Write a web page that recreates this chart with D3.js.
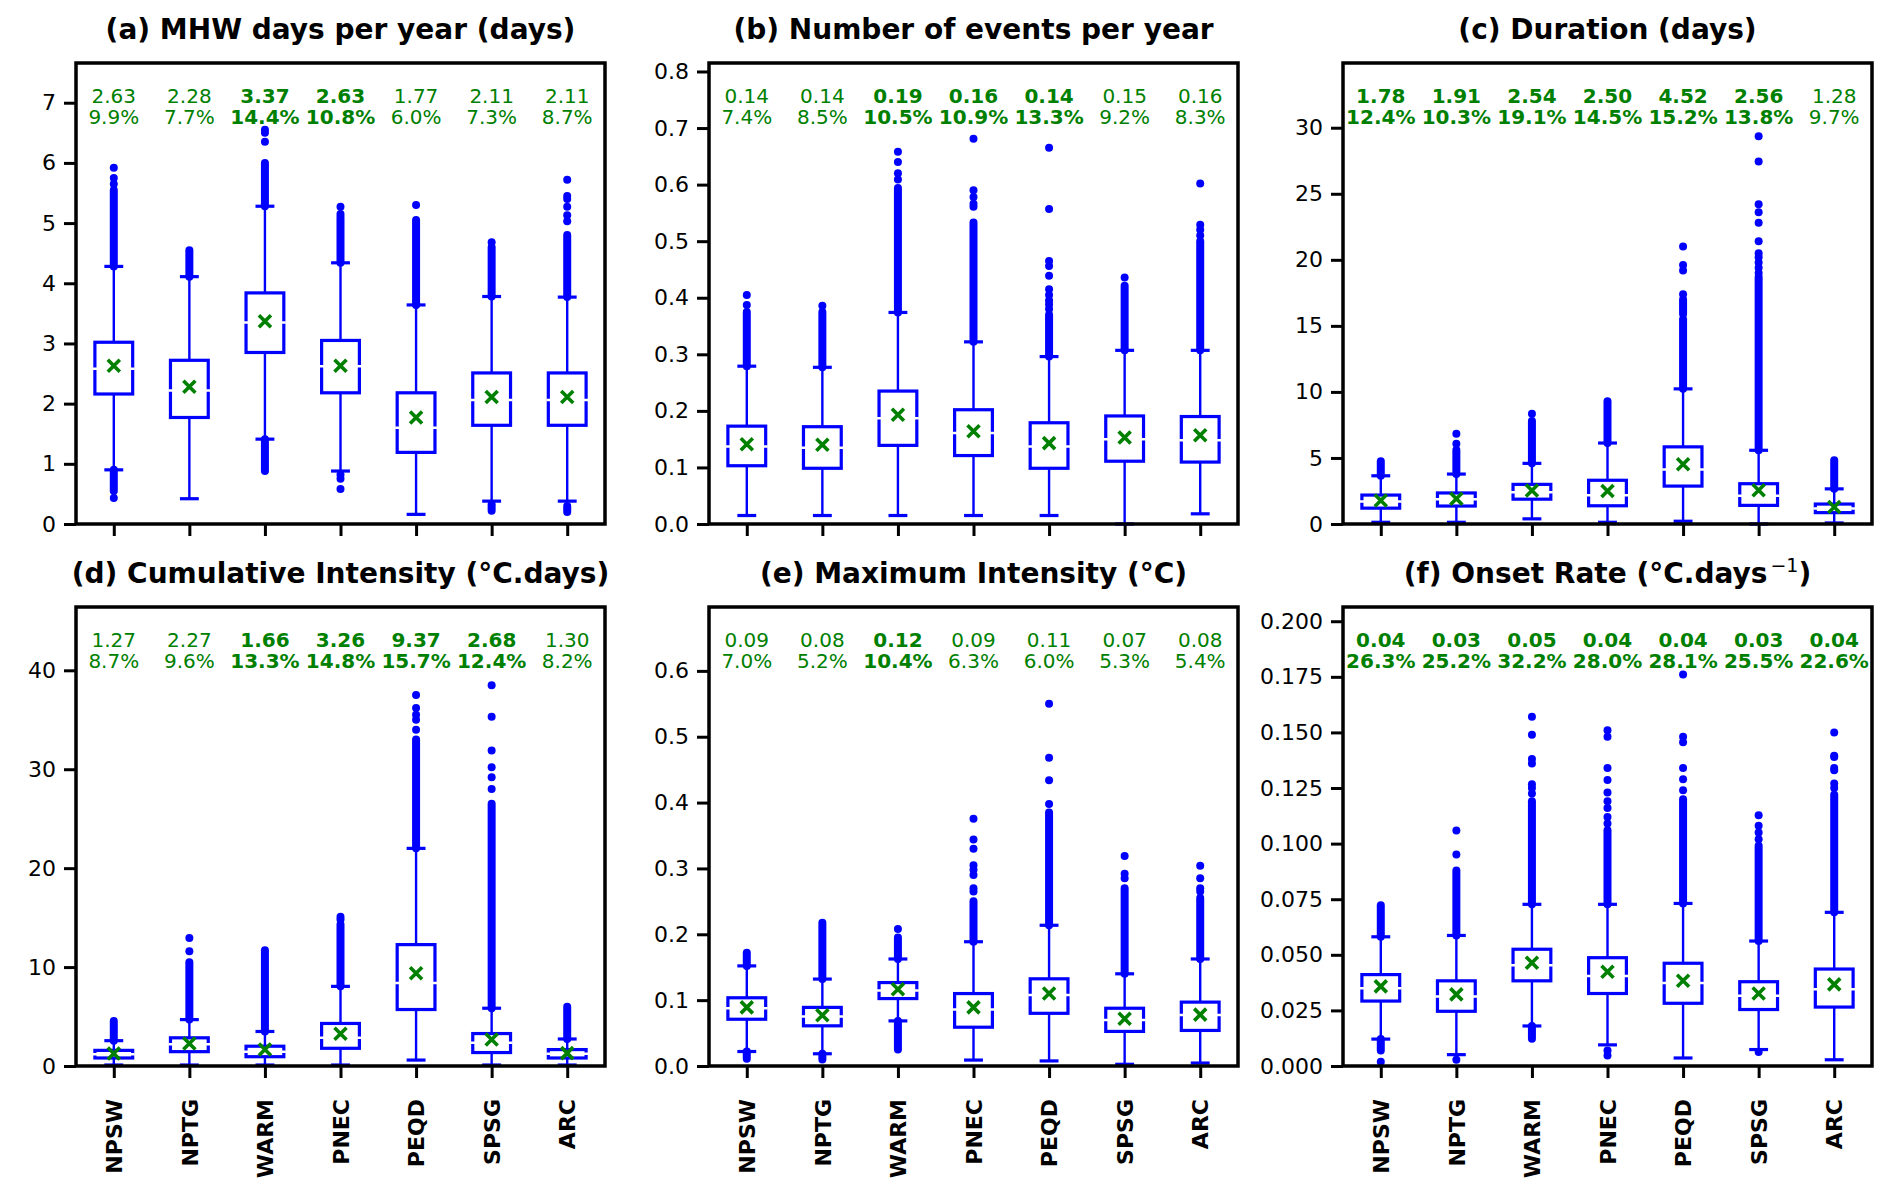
<!DOCTYPE html>
<html lang="en">
<head>
<meta charset="UTF-8">
<title>MHW metrics by region</title>
<script src="https://d3js.org/d3.v7.min.js"></script>
<style>
  body { margin: 0; background: #fff; }
  svg { display: block; font-family: "DejaVu Sans", sans-serif; }
</style>
</head>
<body>
<svg></svg>
<script>
// regions on the x axis
const regions = ["NPSW", "NPTG", "WARM", "PNEC", "PEQD", "SPSG", "ARC"];

// (a) MHW days per year
const aQ1 = [2.16, 1.77, 2.85, 2.18, 1.19, 1.64, 1.64];
const aMed = [2.58, 2.22, 3.35, 2.62, 1.60, 2.06, 2.06];
const aQ3 = [3.02, 2.72, 3.84, 3.05, 2.18, 2.51, 2.51];
const aLo = [0.90, 0.42, 1.41, 0.88, 0.16, 0.38, 0.38];
const aHi = [4.28, 4.11, 5.28, 4.34, 3.64, 3.78, 3.77];
const aMean = [2.63, 2.28, 3.37, 2.63, 1.77, 2.11, 2.11];
const aPct = [9.9, 7.7, 14.4, 10.8, 6.0, 7.3, 8.7];
const aBold = [0, 0, 1, 1, 0, 0, 0];
const aFliers = [
  { runs: [[4.28, 5.55], [0.55, 0.90]], dots: [5.65, 5.75, 5.92, 0.43] },
  { runs: [[4.11, 4.55]], dots: [] },
  { runs: [[5.28, 6.0], [0.88, 1.41]], dots: [6.35, 6.5, 6.55] },
  { runs: [[4.34, 5.1]], dots: [5.15, 5.27, 0.82, 0.75, 0.58] },
  { runs: [[3.64, 5.05]], dots: [5.3] },
  { runs: [[3.78, 4.6], [0.22, 0.33]], dots: [4.68] },
  { runs: [[3.77, 4.8], [0.2, 0.3]], dots: [5.03, 5.13, 5.27, 5.4, 5.45, 5.72] }
];
const aTicks = [0, 1, 2, 3, 4, 5, 6, 7];

// (b) number of events per year
const bQ1 = [0.103, 0.0985, 0.139, 0.121, 0.0985, 0.111, 0.1095];
const bMed = [0.137, 0.135, 0.187, 0.161, 0.137, 0.150, 0.148];
const bQ3 = [0.173, 0.172, 0.235, 0.202, 0.179, 0.191, 0.190];
const bLo = [0.015, 0.015, 0.015, 0.015, 0.015, 0.0, 0.018];
const bHi = [0.279, 0.277, 0.374, 0.322, 0.296, 0.307, 0.307];
const bMean = [0.141, 0.14, 0.193, 0.164, 0.143, 0.153, 0.157];
const bPct = [7.4, 8.5, 10.5, 10.9, 13.3, 9.2, 8.3];
const bBold = [0, 0, 1, 1, 1, 0, 0];
const bFliers = [
  { runs: [[0.279, 0.375]], dots: [0.387, 0.405] },
  { runs: [[0.277, 0.375]], dots: [0.386] },
  { runs: [[0.374, 0.594]], dots: [0.609, 0.62, 0.64, 0.658] },
  { runs: [[0.322, 0.533]], dots: [0.561, 0.566, 0.578, 0.59, 0.681] },
  { runs: [[0.296, 0.37]], dots: [0.38, 0.388, 0.395, 0.405, 0.415, 0.439, 0.456, 0.465, 0.557, 0.665] },
  { runs: [[0.307, 0.421]], dots: [0.436] },
  { runs: [[0.307, 0.50]], dots: [0.51, 0.52, 0.529, 0.602] }
];
const bTicks = [0, 0.1, 0.2, 0.3, 0.4, 0.5, 0.6, 0.7, 0.8];

// (c) duration
const cQ1 = [1.20, 1.36, 1.88, 1.38, 2.87, 1.41, 0.86];
const cMed = [1.70, 1.88, 2.40, 2.17, 4.12, 2.14, 1.17];
const cQ3 = [2.19, 2.35, 3.0, 3.31, 5.84, 3.05, 1.51];
const cLo = [0.13, 0.13, 0.39, 0.13, 0.21, 0.0, 0.08];
const cHi = [3.65, 3.78, 4.59, 6.13, 10.23, 5.58, 2.66];
const cMean = [1.78, 1.91, 2.54, 2.50, 4.52, 2.56, 1.28];
const cPct = [12.4, 10.3, 19.1, 14.5, 15.2, 13.8, 9.7];
const cBold = [1, 1, 1, 1, 1, 1, 0];
const cFliers = [
  { runs: [[3.65, 4.75]], dots: [] },
  { runs: [[3.78, 5.6]], dots: [6.08, 6.84] },
  { runs: [[4.59, 7.8]], dots: [8.35] },
  { runs: [[6.13, 9.3]], dots: [] },
  { runs: [[10.23, 15.5], [15.9, 17.0]], dots: [17.4, 19.2, 19.6, 21.0] },
  { runs: [[5.58, 18.7]], dots: [19.0, 19.4, 19.8, 20.2, 20.5, 21.4, 22.8, 23.6, 24.2, 27.45, 29.35] },
  { runs: [[2.66, 4.83]], dots: [] }
];
const cTicks = [0, 5, 10, 15, 20, 25, 30];

// (d) cumulative intensity
const dQ1 = [0.81, 1.45, 0.94, 1.79, 5.71, 1.36, 0.81];
const dMed = [1.19, 2.2, 1.45, 2.85, 8.39, 2.34, 1.24];
const dQ3 = [1.58, 2.85, 2.0, 4.3, 12.27, 3.28, 1.66];
const dLo = [0.1, 0.1, 0.1, 0.1, 0.6, 0.1, 0.1];
const dHi = [2.56, 4.69, 3.49, 8.05, 22.0, 5.84, 2.73];
const dMean = [1.27, 2.27, 1.66, 3.26, 9.37, 2.68, 1.30];
const dPct = [8.7, 9.6, 13.3, 14.8, 15.7, 12.4, 8.2];
const dBold = [0, 0, 1, 1, 1, 1, 0];
const dFliers = [
  { runs: [[2.56, 4.56]], dots: [] },
  { runs: [[4.69, 10.5]], dots: [11.6, 12.95] },
  { runs: [[3.49, 11.7]], dots: [] },
  { runs: [[8.05, 14.3]], dots: [14.8, 15.1] },
  { runs: [[22.0, 33.0]], dots: [34.0, 35.0, 35.5, 36.2, 37.5] },
  { runs: [[5.84, 26.5]], dots: [28.0, 29.2, 30.2, 31.9, 35.3, 38.5] },
  { runs: [[2.73, 6.0]], dots: [] }
];
const dTicks = [0, 10, 20, 30, 40];

// (e) maximum intensity
const eQ1 = [0.071, 0.061, 0.1024, 0.0589, 0.080, 0.0525, 0.054];
const eMed = [0.0877, 0.075, 0.1145, 0.0857, 0.108, 0.0697, 0.0774];
const eQ3 = [0.1036, 0.089, 0.1267, 0.110, 0.1324, 0.0877, 0.097];
const eLo = [0.022, 0.0186, 0.0685, 0.009, 0.0077, 0.0026, 0.0045];
const eHi = [0.152, 0.132, 0.1625, 0.1887, 0.2137, 0.14, 0.1625];
const eMean = [0.089, 0.077, 0.1164, 0.089, 0.11, 0.0717, 0.078];
const ePct = [7.0, 5.2, 10.4, 6.3, 6.0, 5.3, 5.4];
const eBold = [0, 0, 1, 0, 0, 0, 0];
const eFliers = [
  { runs: [[0.152, 0.172], [0.011, 0.022]], dots: [] },
  { runs: [[0.132, 0.2175], [0.01, 0.0186]], dots: [] },
  { runs: [[0.1625, 0.195], [0.025, 0.0685]], dots: [0.208] },
  { runs: [[0.1887, 0.25]], dots: [0.265, 0.27, 0.29, 0.298, 0.305, 0.33, 0.344, 0.3755] },
  { runs: [[0.2137, 0.385]], dots: [0.398, 0.434, 0.468, 0.55] },
  { runs: [[0.14, 0.27]], dots: [0.285, 0.292, 0.319] },
  { runs: [[0.1625, 0.255]], dots: [0.265, 0.27, 0.285, 0.304] }
];
const eTicks = [0, 0.1, 0.2, 0.3, 0.4, 0.5, 0.6];

// (f) onset rate
const fQ1 = [0.0292, 0.0246, 0.0383, 0.0326, 0.0282, 0.0254, 0.0265];
const fMed = [0.035, 0.0313, 0.0453, 0.0405, 0.0373, 0.0316, 0.0345];
const fQ3 = [0.0411, 0.0383, 0.0525, 0.0487, 0.0462, 0.0379, 0.0436];
const fLo = [0.0121, 0.0051, 0.018, 0.0095, 0.0036, 0.0074, 0.0028];
const fHi = [0.0581, 0.0587, 0.0727, 0.0727, 0.0731, 0.0562, 0.0691];
const fMean = [0.0358, 0.0322, 0.0464, 0.0424, 0.0383, 0.0326, 0.0367];
const fPct = [26.3, 25.2, 32.2, 28.0, 28.1, 25.5, 22.6];
const fBold = [1, 1, 1, 1, 1, 1, 1];
const fFliers = [
  { runs: [[0.0581, 0.0723], [0.007, 0.0121]], dots: [0.0019] },
  { runs: [[0.0587, 0.0879]], dots: [0.0951, 0.1059, 0.0028] },
  { runs: [[0.0727, 0.119], [0.0123, 0.018]], dots: [0.1225, 0.125, 0.1267, 0.136, 0.138, 0.149, 0.157] },
  { runs: [[0.0727, 0.106]], dots: [0.109, 0.112, 0.116, 0.119, 0.123, 0.1286, 0.134, 0.148, 0.151, 0.007, 0.0047] },
  { runs: [[0.0731, 0.12]], dots: [0.124, 0.129, 0.134, 0.1456, 0.148, 0.176] },
  { runs: [[0.0562, 0.099]], dots: [0.102, 0.105, 0.108, 0.1127, 0.0063] },
  { runs: [[0.0691, 0.122]], dots: [0.125, 0.127, 0.133, 0.134, 0.139, 0.1395, 0.15] }
];
const fTicks = [0, 0.025, 0.05, 0.075, 0.1, 0.125, 0.15, 0.175, 0.2];

const panels = [
  { title: "(a) MHW days per year (days)", yMax: 7.66, ticks: aTicks, fmt: d3.format("d"),
    q1: aQ1, med: aMed, q3: aQ3, lo: aLo, hi: aHi, mean: aMean, pct: aPct, bold: aBold, fliers: aFliers },
  { title: "(b) Number of events per year", yMax: 0.815, ticks: bTicks, fmt: d3.format(".1f"),
    q1: bQ1, med: bMed, q3: bQ3, lo: bLo, hi: bHi, mean: bMean, pct: bPct, bold: bBold, fliers: bFliers },
  { title: "(c) Duration (days)", yMax: 34.9, ticks: cTicks, fmt: d3.format("d"),
    q1: cQ1, med: cMed, q3: cQ3, lo: cLo, hi: cHi, mean: cMean, pct: cPct, bold: cBold, fliers: cFliers },
  { title: "(d) Cumulative Intensity (°C.days)", yMax: 46.4, ticks: dTicks, fmt: d3.format("d"),
    q1: dQ1, med: dMed, q3: dQ3, lo: dLo, hi: dHi, mean: dMean, pct: dPct, bold: dBold, fliers: dFliers },
  { title: "(e) Maximum Intensity (°C)", yMax: 0.697, ticks: eTicks, fmt: d3.format(".1f"),
    q1: eQ1, med: eMed, q3: eQ3, lo: eLo, hi: eHi, mean: eMean, pct: ePct, bold: eBold, fliers: eFliers },
  { title: "(f) Onset Rate (°C.days", sup: "\u22121", yMax: 0.2064, ticks: fTicks, fmt: d3.format(".3f"),
    q1: fQ1, med: fMed, q3: fQ3, lo: fLo, hi: fHi, mean: fMean, pct: fPct, bold: fBold, fliers: fFliers }
];

const width = 1892, height = 1202;
const blue = "#0000ff", green = "#008000";
const colLeft = [76, 709, 1343], colW = 529;
const rowTop = [63, 607], rowH = [461, 459];
const dotR = 4;

const svg = d3.select("svg").attr("width", width).attr("height", height);
svg.append("rect").attr("width", width).attr("height", height).attr("fill", "#fff");

panels.forEach((p, i) => {
  const col = i % 3, row = Math.floor(i / 3);
  const w = colW, h = rowH[row];
  const g = svg.append("g").attr("transform", `translate(${colLeft[col]},${rowTop[row]})`);

  const x = d3.scaleLinear().domain([0.5, 7.5]).range([0, w]);
  const y = d3.scaleLinear().domain([0, p.yMax]).range([h, 0]);
  const pos = regions.map((_, k) => k + 1);
  const bw = x(1.25) - x(1);   // half box width
  const cw = x(1.125) - x(1);  // half cap width

  // y axis
  const ya = g.append("g").call(d3.axisLeft(y).tickValues(p.ticks).tickFormat(p.fmt).tickSize(12).tickPadding(8));
  ya.select(".domain").remove();
  ya.selectAll(".tick line").attr("stroke", "#000").attr("stroke-width", 3);
  ya.selectAll(".tick text").attr("font-size", 22).attr("fill", "#000").attr("font-family", "DejaVu Sans");

  // x axis
  const xa = g.append("g").attr("transform", `translate(0,${h})`)
    .call(d3.axisBottom(x).tickValues(pos).tickSize(12).tickFormat(row === 1 ? (d => regions[d - 1]) : ""));
  xa.select(".domain").remove();
  xa.selectAll(".tick line").attr("stroke", "#000").attr("stroke-width", 3);
  xa.selectAll(".tick text")
    .attr("font-size", 22).attr("font-weight", "bold").attr("fill", "#000").attr("font-family", "DejaVu Sans")
    .attr("text-anchor", "end").attr("transform", "rotate(-90)")
    .attr("x", -33).attr("y", 0).attr("dy", "0.35em");

  const boxes = g.selectAll(".box").data(pos).join("g").attr("class", "box")
    .attr("transform", d => `translate(${x(d)},0)`);

  // whiskers
  boxes.append("line").attr("y1", (d, k) => y(p.q3[k])).attr("y2", (d, k) => y(p.hi[k]))
    .attr("stroke", blue).attr("stroke-width", 2.4);
  boxes.append("line").attr("y1", (d, k) => y(p.q1[k])).attr("y2", (d, k) => y(p.lo[k]))
    .attr("stroke", blue).attr("stroke-width", 2.4);
  // caps
  boxes.append("line").attr("x1", -cw).attr("x2", cw).attr("y1", (d, k) => y(p.hi[k])).attr("y2", (d, k) => y(p.hi[k]))
    .attr("stroke", blue).attr("stroke-width", 3.2);
  boxes.append("line").attr("x1", -cw).attr("x2", cw).attr("y1", (d, k) => y(p.lo[k])).attr("y2", (d, k) => y(p.lo[k]))
    .attr("stroke", blue).attr("stroke-width", 3.2);

  // fliers: dense runs drawn as round-capped strokes, sparse ones as dots
  boxes.each(function (d, k) {
    const b = d3.select(this);
    const fl = p.fliers[k];
    b.selectAll(".run").data(fl.runs).join("line").attr("class", "run")
      .attr("y1", r => y(r[0])).attr("y2", r => y(r[1]))
      .attr("stroke", blue).attr("stroke-width", dotR * 2).attr("stroke-linecap", "round");
    b.selectAll(".dot").data(fl.dots).join("circle").attr("class", "dot")
      .attr("cy", v => y(v)).attr("r", dotR).attr("fill", blue);
  });

  // box
  boxes.append("rect").attr("x", -bw).attr("width", 2 * bw)
    .attr("y", (d, k) => y(p.q3[k])).attr("height", (d, k) => y(p.q1[k]) - y(p.q3[k]))
    .attr("fill", "#fff").attr("stroke", blue).attr("stroke-width", 3.2);
  // median (white)
  boxes.append("line").attr("x1", -bw - 2).attr("x2", bw + 2)
    .attr("y1", (d, k) => y(p.med[k])).attr("y2", (d, k) => y(p.med[k]))
    .attr("stroke", "#fff").attr("stroke-width", 2.5);
  // mean marker
  boxes.append("path").attr("d", "M-6,-6L6,6M-6,6L6,-6")
    .attr("transform", (d, k) => `translate(0,${y(p.mean[k])})`)
    .attr("stroke", green).attr("stroke-width", 3.6).attr("fill", "none");

  // trend labels
  const lab = g.selectAll(".lab").data(pos).join("g").attr("class", "lab")
    .attr("transform", d => `translate(${x(d)},0)`)
    .attr("fill", green).attr("font-size", 20).attr("text-anchor", "middle")
    .attr("font-weight", (d, k) => p.bold[k] ? "bold" : "normal");
  lab.append("text").attr("y", 39.5).text((d, k) => p.mean[k].toFixed(2));
  lab.append("text").attr("y", 61).text((d, k) => p.pct[k].toFixed(1) + "%");

  // frame
  g.append("rect").attr("width", w).attr("height", h).attr("fill", "none")
    .attr("stroke", "#000").attr("stroke-width", 3.5);

  // title
  const t = g.append("text").attr("x", w / 2).attr("y", -24).attr("text-anchor", "middle")
    .attr("font-size", 28).attr("font-weight", "bold").attr("fill", "#000").text(p.title);
  if (p.sup) {
    t.append("tspan").attr("font-size", 19).attr("font-weight", "normal").attr("dx", 3).attr("dy", -11).text(p.sup);
    t.append("tspan").attr("dy", 11).text(")");
  }
});
</script>
</body>
</html>
